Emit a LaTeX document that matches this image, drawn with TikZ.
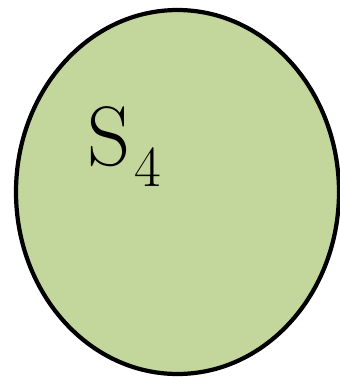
\documentclass[tikz,border=0pt]{standalone}
\usepackage{tikz}
\usetikzlibrary{shapes.geometric, positioning}
\definecolor{setgreen}{HTML}{C3D69B}

\begin{document}
\begin{tikzpicture}[font=\fontsize{24}{28}\selectfont]
  \useasboundingbox (0,0) rectangle (3.40,3.77);
  % the set S_4
  \node[draw, ellipse, fill=setgreen, line width=1.2pt, inner sep=0pt, minimum width=3.23cm, minimum height=3.64cm]
    (s4) at (1.775, 1.85) {};
  % its label, upper left
  \node[anchor=base west, inner sep=0pt]
    (s4label) at (0.87, 2.12) {S\kern1pt\raisebox{-6.2pt}{\fontsize{16.5}{20}\selectfont 4}};
\end{tikzpicture}
\end{document}
